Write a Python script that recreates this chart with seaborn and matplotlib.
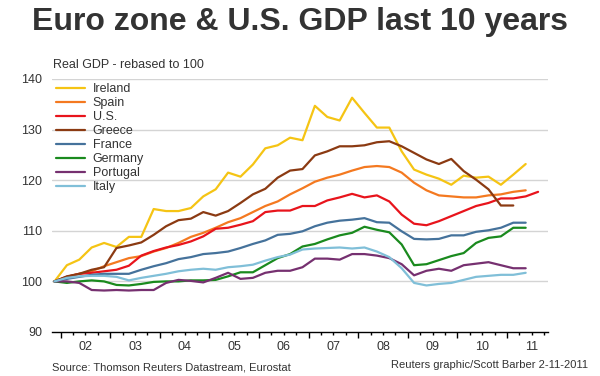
import numpy as np
import pandas as pd
import seaborn as sns
import matplotlib.pyplot as plt
from matplotlib.ticker import FixedLocator, FuncFormatter

# === Dati: PIL reale trimestrale, base 100 = 2001Q4 ===
quarters = pd.period_range('2001Q4', '2011Q3', freq='Q')

ireland = [100, 103.2, 104.3, 106.7, 107.6, 106.8, 108.8, 108.8, 114.3, 113.9,
           113.9, 114.5, 116.8, 118.2, 121.5, 120.7, 123.1, 126.3, 126.9, 128.4,
           127.9, 134.7, 132.5, 131.8, 136.3, 133.3, 130.4, 130.4, 125.7, 122.1,
           121.1, 120.3, 119.1, 120.9, 120.5, 120.7, 119.1, 121.1, 123.2]
spain = [100, 100.9, 101.5, 102, 103, 103.8, 104.6, 105, 105.9, 106.6,
         107.6, 108.8, 109.6, 110.6, 111.7, 112.5, 113.7, 114.9, 115.8, 117.2,
         118.4, 119.7, 120.5, 121.1, 121.9, 122.6, 122.8, 122.6, 121.5, 119.5,
         118, 117, 116.8, 116.6, 116.6, 117, 117.2, 117.7, 118]
us = [100, 100.9, 101.5, 101.7, 102, 102.3, 103.1, 105.1, 106, 106.7,
      107.2, 107.9, 108.9, 110.4, 110.6, 111.2, 111.9, 113.7, 114, 114,
      114.9, 114.9, 116, 116.6, 117.3, 116.6, 117, 115.8, 113.2, 111.4,
      111.1, 111.9, 112.9, 113.9, 114.9, 115.5, 116.4, 116.4, 116.8, 117.7]
greece = [100, 101, 101.5, 102.3, 102.8, 106.6, 107.1, 107.7, 109.2, 110.9,
          112.1, 112.4, 113.7, 113, 113.9, 115.5, 117.2, 118.3, 120.5, 121.9,
          122.2, 124.9, 125.7, 126.7, 126.7, 126.9, 127.5, 127.7, 126.7, 125.4,
          124.1, 123.2, 124.2, 121.8, 120.1, 118.2, 115, 115]
france = [100, 100.5, 100.9, 101.3, 101.5, 101.5, 101.5, 102.3, 103, 103.6,
          104.4, 104.8, 105.4, 105.6, 105.9, 106.6, 107.4, 108.1, 109.2, 109.4,
          109.9, 110.9, 111.6, 112, 112.2, 112.5, 111.7, 111.6, 109.9, 108.4,
          108.3, 108.4, 109.1, 109.1, 109.8, 110.1, 110.6, 111.6, 111.6]
germany = [100, 99.7, 100, 100.2, 100, 99.3, 99.2, 99.5, 99.9, 100,
           100, 100.2, 100.2, 100.3, 101, 101.8, 101.8, 103.2, 104.6, 105.4,
           106.9, 107.4, 108.3, 109.1, 109.6, 110.8, 110.2, 109.7, 107.3, 103.2,
           103.4, 104.2, 105, 105.6, 107.6, 108.6, 108.9, 110.6, 110.6]
portugal = [100, 100, 99.7, 98.3, 98.2, 98.3, 98.2, 98.3, 98.3, 99.7,
            100.3, 100.1, 99.8, 100.7, 101.7, 100.5, 100.7, 101.7, 102.1, 102.1,
            102.8, 104.5, 104.5, 104.3, 105.4, 105.4, 105.1, 104.6, 103.4, 101.2,
            102.1, 102.5, 102.1, 103.2, 103.5, 103.8, 103.2, 102.6, 102.6]
italy = [100, 100.7, 101, 101.1, 101.1, 100.9, 100.2, 100.7, 101.1, 101.5,
         102, 102.3, 102.5, 102.3, 102.8, 103, 103.3, 104.1, 104.8, 105.3,
         106.3, 106.5, 106.6, 106.7, 106.5, 106.7, 105.9, 104.8, 102.6, 99.7,
         99.2, 99.5, 99.7, 100.3, 100.9, 101.1, 101.3, 101.3, 101.7]

countries = ['Ireland', 'Spain', 'U.S.', 'Greece', 'France', 'Germany', 'Portugal', 'Italy']
series = [ireland, spain, us, greece, france, germany, portugal, italy]
colors = ['#f5c414', '#f47920', '#e8141c', '#8b3a12', '#45729b', '#1a8a1e', '#763070', '#80bfd8']

year_labels = ['02', '03', '04', '05', '06', '07', '08', '09', '10', '11']

# === Formato long ===
qpos = quarters.year + (quarters.quarter - 0.5) / 4
rows = []
for name, vals in zip(countries, series):
    for xq, v in zip(qpos[:len(vals)], vals):
        rows.append({'x': xq, 'gdp': v, 'country': name})
df = pd.DataFrame(rows)

# === Grafico ===
sns.set_style('white')
plt.rcParams['font.family'] = ['Liberation Sans', 'DejaVu Sans']
txt = '#333333'

fig = plt.figure(figsize=(6, 3.76), dpi=100)
ax = fig.add_axes([52 / 600, 1 - 332 / 376, 496 / 600, 253 / 376])

for g in [100, 110, 120, 130, 140]:
    ax.axhline(g, color='#d4d4d4', lw=1, zorder=0)

sns.lineplot(data=df, x='x', y='gdp', hue='country', hue_order=countries,
             palette=colors, lw=1.6, estimator=None, ax=ax)

ax.set_xlim(2001.825, 2011.825)
ax.set_ylim(90, 140)
ax.set_yticks([90, 100, 110, 120, 130, 140])
ax.set_xlabel('')
ax.set_ylabel('')

for s in ['top', 'right', 'left']:
    ax.spines[s].set_visible(False)
ax.spines['bottom'].set_color('black')
ax.spines['bottom'].set_linewidth(1)

years = np.arange(2002, 2012)
ax.xaxis.set_major_locator(FixedLocator(years))
ax.xaxis.set_major_formatter(FuncFormatter(lambda v, p: ''))
quarter_ticks = [y + q for y in range(2001, 2012) for q in (0.25, 0.5, 0.75)]
quarter_ticks = [t for t in quarter_ticks if 2001.83 < t < 2011.83]
ax.xaxis.set_minor_locator(FixedLocator(quarter_ticks))
lab = {y + 0.5: l for y, l in zip(years, year_labels)}
ax.xaxis.set_minor_formatter(FuncFormatter(lambda v, p: lab.get(round(v, 2), '')))
ax.tick_params(axis='x', which='major', direction='out', length=4.5, width=1,
               color='black', bottom=True)
ax.tick_params(axis='x', which='minor', direction='out', length=2.5, width=1,
               color='black', bottom=True, pad=4, labelsize=9, labelcolor=txt)
ax.tick_params(axis='y', length=0, pad=7, labelsize=9, labelcolor=txt)

h, l = ax.get_legend_handles_labels()
leg = ax.legend(h, l, loc='upper left', bbox_to_anchor=(0.0, 1.0), frameon=False,
                fontsize=9, handlelength=2.25, handletextpad=0.65,
                labelspacing=0.16, borderaxespad=0.25, borderpad=0.1)
for t in leg.get_texts():
    t.set_color(txt)
for line in leg.get_lines():
    line.set_linewidth(1.6)

fig.text(0.5, 1 - 22 / 376, 'Euro zone & U.S. GDP last 10 years', ha='center',
         va='center', fontsize=23, fontweight='bold', color=txt)
fig.text(53 / 600, 1 - 65 / 376, 'Real GDP - rebased to 100', ha='left',
         va='center', fontsize=9, color=txt)
fig.text(52 / 600, 1 - 368 / 376, 'Source: Thomson Reuters Datastream, Eurostat',
         ha='left', va='center', fontsize=8, color=txt)
fig.text(588 / 600, 1 - 365 / 376, 'Reuters graphic/Scott Barber 2-11-2011',
         ha='right', va='center', fontsize=8, color=txt)

plt.savefig('out.png', dpi=100)
